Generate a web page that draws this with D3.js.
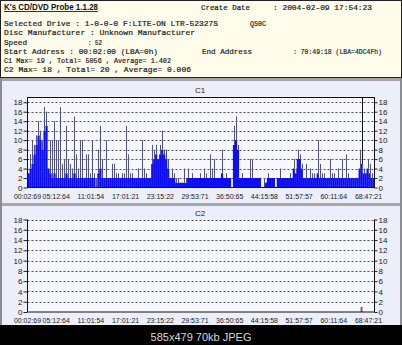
<!DOCTYPE html>
<html>
<head>
<meta charset="utf-8">
<script src="https://cdn.jsdelivr.net/npm/d3@7"></script>
<style>
  body { margin: 0; background: #000; }
  svg { display: block; }
</style>
</head>
<body>
<div id="chart"></div>
<script>
// DATA
const headerLines = [
    { text: "Selected Drive : 1-0-0-0 F:LITE-ON LTR-52327S", x: 4, y: 26, w: 214 },
    { text: "QS0C", x: 250, y: 26, w: 16 },
    { text: "Disc Manufacturer : Unknown Manufacturer", x: 4, y: 35, w: 191 },
    { text: "Speed", x: 4, y: 44.5, w: 23 },
    { text: ": 52", x: 88, y: 44.5, w: 14 },
    { text: "Start Address  : 00:02:00 (LBA=0h)", x: 4, y: 53.5, w: 154 },
    { text: "End Address", x: 202, y: 53.5, w: 50 },
    { text: ": 70:49:18 (LBA=4DC4Fh)", x: 293, y: 53.5, w: 89 },
    { text: "C1 Max= 19 , Total= 5056 , Average= 1.402", x: 4, y: 62.5, w: 167 },
    { text: "C2 Max= 18 , Total= 20 , Average= 0.006", x: 4, y: 71.5, w: 187 },
    { text: "Create Date", x: 201, y: 9.5, w: 49 },
    { text: ": 2004-02-09 17:54:23", x: 273, y: 9.5, w: 99 }
];

const xTickLabels = ["00:02:69", "05:12:64", "11:01:54", "17:01:21", "23:15:22", "29:53:71",
    "36:50:65", "44:15:58", "51:57:57", "60:11:64", "68:47:21"];
const yTicks = [0, 2, 4, 6, 8, 10, 12, 14, 16, 18];

// C1 per sample: dense level (blue fill) and spike top
const c1Base = [
    3, 4, 5, 7, 9, 11, 10, 8, 12, 13,
    4, 3, 2, 3, 2, 2, 2, 2, 2, 3,
    2, 2, 2, 3, 2, 2, 2, 2, 2, 2,
    2, 2, 2, 2, 0, 3, 4, 2, 2, 2,
    2, 2, 2, 2, 2, 2, 2, 2, 2, 2,
    2, 2, 2, 2, 2, 2, 2, 2, 2, 2,
    2, 2, 5, 6, 7, 6, 7, 8, 7, 6,
    4, 2, 2, 2, 1, 1, 1, 1, 1, 1,
    2, 2, 2, 2, 2, 2, 2, 2, 2, 2,
    2, 2, 2, 2, 2, 2, 2, 3, 2, 2,
    2, 2, 0, 9, 10, 8, 2, 2, 2, 2,
    2, 2, 2, 2, 2, 2, 2, 0, 0, 1,
    2, 2, 2, 2, 0, 2, 2, 2, 2, 2,
    2, 2, 2, 4, 3, 6, 6, 4, 2, 2,
    2, 2, 2, 2, 2, 3, 2, 2, 2, 2,
    2, 2, 2, 2, 2, 2, 2, 2, 2, 2,
    2, 2, 2, 2, 2, 2, 4, 5, 3, 3,
    4, 3, 2, 2
];
const c1Peak = [
    0, 7, 10, 9, 11, 14, 12, 10, 17, 16,
    2, 10, 10, 14, 10, 10, 17, 5, 6, 13,
    6, 5, 4, 15, 7, 4, 10, 10, 0, 7,
    7, 3, 10, 3, 2, 8, 13, 6, 2, 10,
    0, 2, 5, 5, 3, 3, 0, 3, 3, 13,
    7, 3, 3, 2, 0, 4, 0, 10, 4, 3,
    2, 0, 9, 8, 9, 6, 9, 12, 8, 8,
    6, 2, 4, 3, 2, 2, 1, 0, 4, 2,
    4, 0, 3, 0, 2, 0, 3, 0, 4, 3,
    0, 7, 4, 6, 2, 0, 2, 8, 0, 3,
    0, 2, 0, 13, 15, 9, 2, 3, 2, 0,
    0, 6, 6, 2, 0, 2, 0, 0, 2, 0,
    3, 2, 0, 2, 0, 0, 4, 0, 2, 0,
    0, 3, 0, 6, 4, 8, 7, 5, 0, 5,
    2, 4, 3, 3, 0, 10, 5, 3, 3, 0,
    0, 6, 3, 3, 0, 4, 0, 6, 0, 7,
    3, 0, 2, 2, 0, 0, 8, 19, 4, 0,
    6, 5, 3, 2
];
// C2: only one error spot near the end
const c2Index = [167];
const c2Value = [1];

const W = 402, H = 345;
const svg = d3.select("#chart").append("svg")
    .attr("width", W).attr("height", H);

// BACKGROUND PANELS
svg.append("rect").attr("width", W).attr("height", H).attr("fill", "#000");
svg.append("rect").attr("x", 0.5).attr("y", 0.5).attr("width", W - 1).attr("height", 77)
    .attr("fill", "#fffcec").attr("stroke", "#222");
svg.append("rect").attr("x", 0).attr("y", 78).attr("width", W).attr("height", 3).attr("fill", "#a4a4a8");
svg.append("rect").attr("x", 0).attr("y", 81).attr("width", W).attr("height", 122).attr("fill", "#eceef9");
svg.append("rect").attr("x", 0).attr("y", 203).attr("width", W).attr("height", 3).attr("fill", "#a8a8ac");
svg.append("rect").attr("x", 0).attr("y", 206).attr("width", W).attr("height", 119).attr("fill", "#eceef9");
[0, W - 2].forEach(x => {
    svg.append("rect").attr("x", x).attr("y", 78).attr("width", 2).attr("height", 247).attr("fill", "#8c8c94");
});

// HEADER TEXT
svg.append("text")
    .attr("x", 4).attr("y", 10)
    .attr("font-family", "Liberation Sans, Arial, sans-serif")
    .attr("font-size", 8.5).attr("font-weight", "bold")
    .attr("text-decoration", "underline")
    .attr("textLength", 94).attr("lengthAdjust", "spacingAndGlyphs")
    .attr("fill", "#111")
    .text("K's CD/DVD Probe 1.1.28");

svg.selectAll(".hdr").data(headerLines).join("text")
    .attr("class", "hdr")
    .attr("x", d => d.x).attr("y", d => d.y)
    .attr("font-family", "Liberation Mono, monospace")
    .attr("font-size", 7.8)
    .attr("textLength", d => d.w).attr("lengthAdjust", "spacingAndGlyphs")
    .attr("fill", "#1a1a1a")
    .attr("stroke", "#1a1a1a").attr("stroke-width", 0.2)
    .text(d => d.text);

// CHART BUILDER
const left = 27.5, right = 374.5;
const x = d3.scaleLinear().domain([0, c1Base.length]).range([left, right]);
const xTick = d3.scaleLinear().domain([0, xTickLabels.length - 1]).range([left, right]);

function drawPanel(title, titleY, top, bottom, yMax) {
    const y = d3.scaleLinear().domain([0, yMax]).range([bottom, top]);
    const g = svg.append("g");

    g.append("rect").attr("x", left).attr("y", top)
        .attr("width", right - left).attr("height", bottom - top)
        .attr("fill", "#f7f8fe");

    g.append("text").attr("x", 200).attr("y", titleY)
        .attr("text-anchor", "middle")
        .attr("font-family", "Liberation Sans, Arial, sans-serif")
        .attr("font-size", 8).attr("fill", "#222")
        .text(title);

    // grid
    g.selectAll(".grid").data(yTicks.filter(t => t > 0)).join("line")
        .attr("x1", left).attr("x2", right)
        .attr("y1", d => Math.round(y(d)) + 0.5).attr("y2", d => Math.round(y(d)) + 0.5)
        .attr("stroke", "#505050").attr("stroke-dasharray", "2,2");

    // axes
    const yl = g.append("g").attr("transform", `translate(${left},0)`)
        .call(d3.axisLeft(y).tickValues(yTicks).tickSize(4).tickPadding(1));
    const yr = g.append("g").attr("transform", `translate(${right},0)`)
        .call(d3.axisRight(y).tickValues(yTicks).tickSize(3).tickPadding(1));
    [yl, yr].forEach(a => {
        a.select(".domain").remove();
        a.selectAll("line").attr("stroke", "#222");
        a.selectAll("text").attr("font-family", "Liberation Sans, Arial, sans-serif")
            .attr("font-size", 8).attr("fill", "#222");
    });

    g.selectAll(".xl").data(xTickLabels).join("text")
        .attr("x", (d, i) => Math.max(xTick(i) - 6, left))
        .attr("y", bottom + 11)
        .attr("text-anchor", "middle")
        .attr("font-family", "Liberation Sans, Arial, sans-serif")
        .attr("font-size", 7).attr("fill", "#222")
        .text(d => d);

    return { g, y };
}

// C1
const p1 = drawPanel("C1", 93, 97.5, 187.5, 19);
p1.g.selectAll(".base").data(c1Base).join("rect")
    .attr("x", (d, i) => x(i)).attr("width", x(1) - x(0) + 0.2)
    .attr("y", d => p1.y(d)).attr("height", d => p1.y(0) - p1.y(d))
    .attr("fill", "#0e0ef4");

const spikes = c1Peak.map((v, i) => ({ i, v, b: c1Base[i] })).filter(d => d.v > d.b);
p1.g.selectAll(".peak").data(spikes).join("line")
    .attr("x1", d => Math.round(x(d.i)) + 1.5).attr("x2", d => Math.round(x(d.i)) + 1.5)
    .attr("y1", d => p1.y(d.b)).attr("y2", d => p1.y(d.v))
    .attr("stroke", d => d.v >= 19 ? "#151520" : "#50508a").attr("stroke-width", 1);
// frame
p1.g.append("rect").attr("x", left).attr("y", 97.5)
    .attr("width", right - left).attr("height", 90)
    .attr("fill", "none").attr("stroke", "#111");

// C2
const p2 = drawPanel("C2", 216, 219.5, 312, 18);
p2.g.selectAll(".c2").data(c2Value).join("rect")
    .attr("x", (d, i) => x(c2Index[i])).attr("width", 2)
    .attr("y", d => p2.y(d)).attr("height", d => p2.y(0) - p2.y(d))
    .attr("fill", "#a25868");
p2.g.append("path")
    .attr("d", `M${left},219.5V312H${right}V219.5`)
    .attr("fill", "none").attr("stroke", "#111");

// thumbnail caption
svg.append("text").attr("x", 201).attr("y", 340.5)
    .attr("text-anchor", "middle")
    .attr("font-family", "Liberation Sans, Arial, sans-serif")
    .attr("font-size", 11).attr("fill", "#d8d8d8")
    .text("585x479 70kb JPEG");
</script>
</body>
</html>
